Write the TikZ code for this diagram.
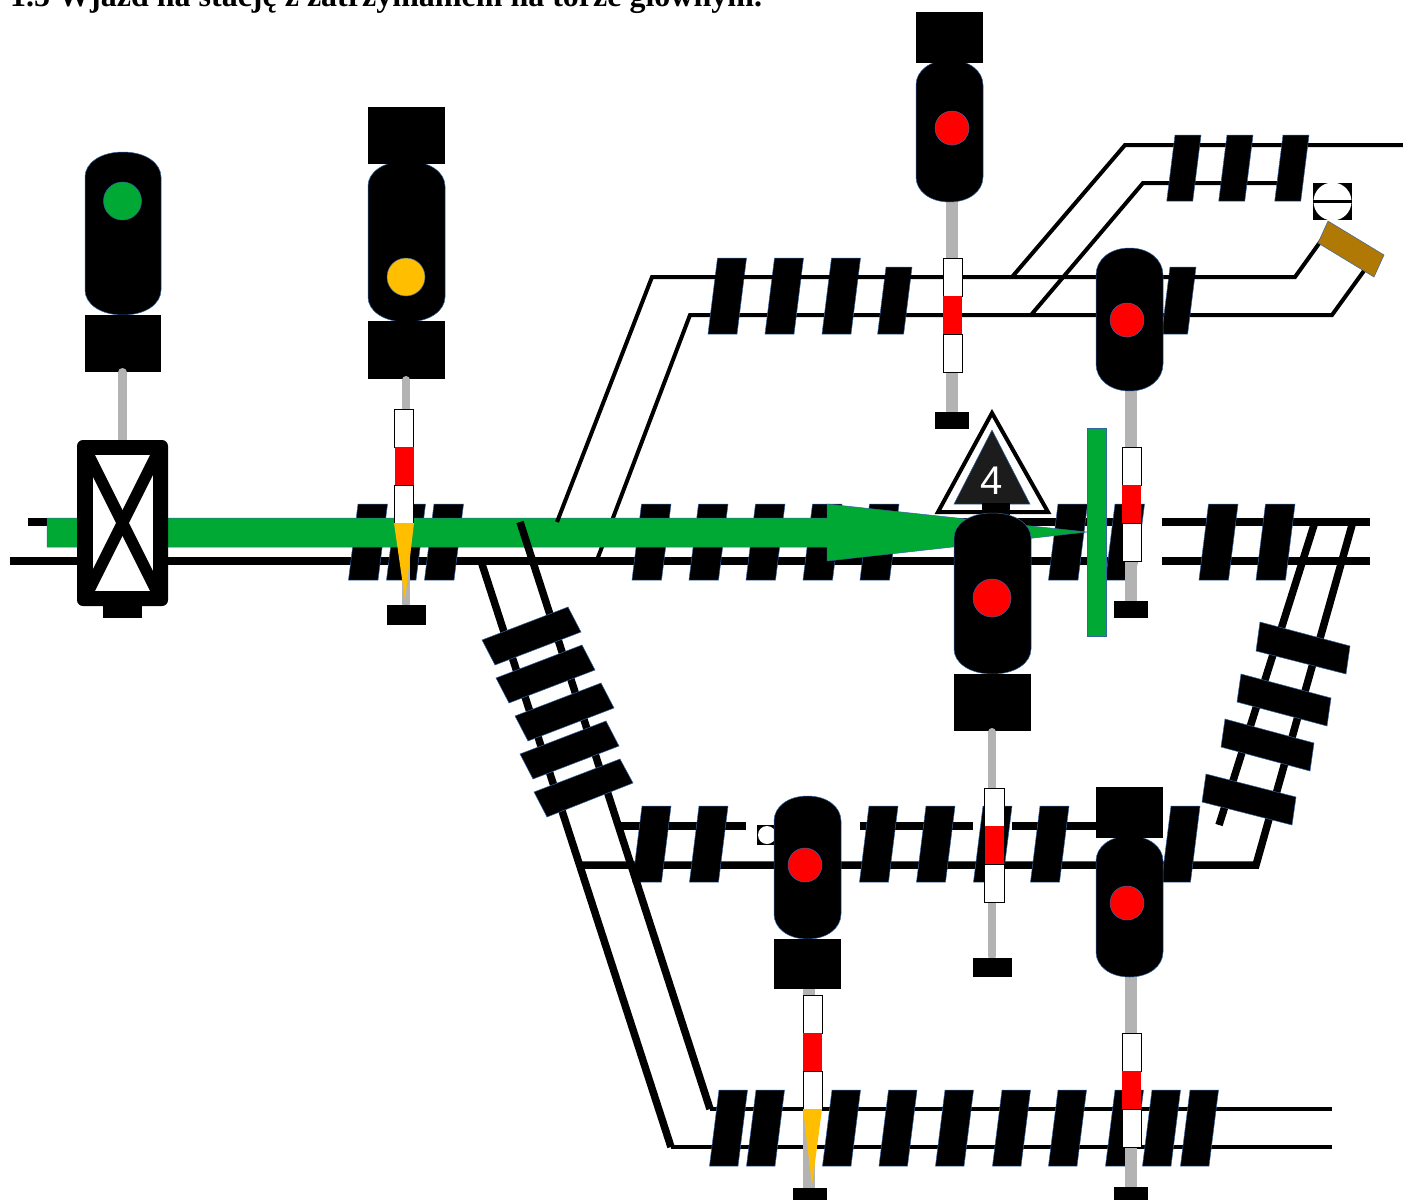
\documentclass[tikz,border=0pt]{standalone}
\usepackage{fontspec}
\setmainfont{Liberation Serif}
\newfontfamily\signfont{Liberation Sans}
\definecolor{edgeblue}{RGB}{52,101,164}
\definecolor{sigGreen}{RGB}{0,169,51}
\definecolor{sigRed}{RGB}{255,0,0}
\definecolor{sigAmber}{RGB}{255,191,0}
\definecolor{poleGray}{RGB}{179,179,179}
\definecolor{brownArm}{RGB}{176,121,6}
\definecolor{darkTri}{RGB}{28,28,28}
\tikzset{
  edged/.style={draw=edgeblue,line width=0.5pt},
  sleeperbar/.style={edged,fill=black},
  thinrail/.style={draw=black,line width=4pt,line join=miter},
  heavyrail/.style={draw=black,line width=7.5pt,line join=miter},
  midrail/.style={draw=black,line width=7.5pt,line join=miter},
  blackfill/.style={fill=black},
  polebar/.style={draw=poleGray,line width=#1},
  whiteseg/.style={fill=white,draw=black,line width=1pt},
  redseg/.style={fill=sigRed,draw=none},
  amberfill/.style={fill=sigAmber,draw=none},
  greenfill/.style={edged,fill=sigGreen},
  headshape/.style={fill=black,draw=none},
}
% sleeper row: y top, y bottom, width, list of top-left x
\newcommand{\sleeperrow}[4]{%
  \foreach \sx in {#4} {
    \fill[sleeperbar] (\sx,#1) -- (\sx+#3,#1) -- ({\sx+#3-(#2-#1)/8},#2) -- ({\sx-(#2-#1)/8},#2) -- cycle;
  }}
% lamp head: x1,x2,y1,y2,ry
\newcommand{\sighead}[5]{%
  \pgfmathsetmacro{\hm}{(#1+#2)/2}\pgfmathsetmacro{\hr}{(#2-#1)/2}%
  \fill[headshape,edged] (#1,#3+#5)
    .. controls (#1,#3+#5*0.45) and (\hm-\hr*0.6,#3) .. (\hm,#3)
    .. controls (\hm+\hr*0.6,#3) and (#2,#3+#5*0.45) .. (#2,#3+#5)
    -- (#2,#4-#5)
    .. controls (#2,#4-#5*0.45) and (\hm+\hr*0.6,#4) .. (\hm,#4)
    .. controls (\hm-\hr*0.6,#4) and (#1,#4-#5*0.45) .. (#1,#4-#5) -- cycle;}
% lamp: cx,cy,r,colour
\newcommand{\siglamp}[4]{\filldraw[edged,fill=#4] (#1,#2) circle[radius=#3];}
% marker: x1,x2,ytop
\newcommand{\sigmarker}[3]{%
  \filldraw[whiteseg] (#1,#3) rectangle (#2,#3+38);
  \filldraw[whiteseg] (#1,#3+76) rectangle (#2,#3+114);
  \fill[redseg] (#1,#3+38) rectangle (#2,#3+76);}
\begin{document}
\begin{tikzpicture}[x=1pt,y=-1pt]
\clip (0,0) rectangle (1403,1200);
\fill[white] (0,0) rectangle (1403,1200);
\node[anchor=base west,inner sep=0pt,font=\fontsize{32}{34}\selectfont\bfseries] (title) at (10,6) {1.5 Wjazd na stację z zatrzymaniem na torze głównym.};

% main line rails
\draw[heavyrail] (28,522) -- (1135,522);
\draw[heavyrail] (10,561) -- (1135,561);
\draw[heavyrail] (1162,522) -- (1370,522);
\draw[heavyrail] (1162,561) -- (1370,561);
% right-hand diagonal rails
\draw[midrail] (1314,525) -- (1219,825);
\draw[midrail] (1352,525) -- (1256,865) -- (581,865);
\draw[midrail] (617,826) -- (746,826);
\draw[midrail] (860,826) -- (973,826);
\draw[midrail] (1012,826) -- (1100,826);
% lower siding
\draw[thinrail] (710,1109) -- (1332,1109);
\draw[thinrail] (671,1147) -- (1332,1147);
% upper sidings
\draw[thinrail] (597,560) -- (690,315) -- (1332,315) -- (1366,268);
\draw[thinrail] (1031,315) -- (1143,183) -- (1285,183);
\draw[thinrail] (1012,277) -- (1125,145) -- (1403,145);

% sleepers
\sleeperrow{504}{580}{29.5}{358,396,434,641.5,698.5,755.5,812.5,869.5,1058,1115,1208.5,1265.5}
\sleeperrow{258}{334}{29}{717.5,774.5,831.5}
\sleeperrow{267}{334}{26}{886}
\sleeperrow{267}{334}{26}{1170}
\sleeperrow{135}{201}{26}{1175,1227,1283}
\sleeperrow{806}{882}{29}{642,699,869,926,983,1040,1171}
\sleeperrow{1090}{1166}{28.5}{719,756,832,888.5,945,1002,1058,1115,1152,1190}

% green route
\fill[greenfill] (47,518) -- (827,518) -- (827,504) -- (1087,532) -- (827,561) -- (827,547) -- (47,547) -- cycle;
\fill[greenfill] (1087,428) rectangle (1106,636);

% rails drawn over the route
\draw[thinrail] (557,522) -- (652,277) -- (1295,277) -- (1323,238);
\draw[midrail] (520,522) -- (710,1109);
\draw[midrail] (481,561) -- (671,1147);

% diagonal sleepers, left
\fill[sleeperbar] (568,607) -- (581,632) -- (495,665) -- (482,640) -- cycle;
\fill[sleeperbar] (582,645) -- (595,670) -- (509,703) -- (496,678) -- cycle;
\fill[sleeperbar] (601,683) -- (614,708) -- (528,741) -- (515,716) -- cycle;
\fill[sleeperbar] (606,721) -- (619,746) -- (533,779) -- (520,754) -- cycle;
\fill[sleeperbar] (620,759) -- (633,783) -- (547,817) -- (534,792) -- cycle;
% diagonal sleepers, right
\fill[sleeperbar] (1260,622) -- (1350,646) -- (1346,674) -- (1256,651) -- cycle;
\fill[sleeperbar] (1241,674) -- (1331,698) -- (1327,726) -- (1237,702) -- cycle;
\fill[sleeperbar] (1225,719) -- (1314,743) -- (1310,771) -- (1221,747) -- cycle;
\fill[sleeperbar] (1206,774) -- (1296,797) -- (1292,825) -- (1202,802) -- cycle;

% catch point with brown arm
\fill[blackfill] (1313,183) rectangle (1352,220);
\fill[white] (1332.5,201.5) circle[radius=19];
\draw[black,line width=3pt] (1313,201.5) -- (1352,201.5);
\fill[edged,fill=brownArm] (1328,221) -- (1384,255) -- (1374,277) -- (1318,243) -- cycle;

% small shunting box
\fill[blackfill] (757,825) rectangle (780,845);
\fill[white] (767,835) circle[radius=9];

% signal 1 with block
\sighead{85}{161}{152}{315}{25}
\fill[blackfill] (85,315) rectangle (161,372);
\draw[polebar=9pt,line cap=round] (122.5,372.5) -- (122.5,445);
\fill[blackfill] (103,600) rectangle (142,618);
\fill[blackfill,rounded corners=6pt] (77,440) rectangle (168,606);
\fill[white] (93,455) rectangle (153,591);
\draw[black,line width=11.5pt,line cap=butt] (84.5,447) -- (160.5,599);
\draw[black,line width=11.5pt,line cap=butt] (160.5,447) -- (84.5,599);
\siglamp{122.5}{201}{19}{sigGreen}

% signal 2
\sighead{368}{445}{161}{322}{25}
\fill[blackfill] (368,107) rectangle (445,164);
\fill[blackfill] (368,321) rectangle (445,379);
\draw[polebar=8pt,line cap=round] (406,380) -- (406,604);
\fill[blackfill] (387,605) rectangle (426,625);
\sigmarker{394.5}{413.5}{409}
\fill[amberfill] (394,523) -- (414,523) -- (405,600) -- cycle;
\siglamp{406}{277}{19}{sigAmber}

% signal 3 (top)
\draw[polebar=12pt] (952,200) -- (952,412);
\sigmarker{943}{962}{258}
\fill[blackfill] (935,412) rectangle (969,429);
\sighead{916}{983}{60}{202}{25}
\fill[blackfill] (916,12) rectangle (983,63);
\siglamp{952}{128}{17}{sigRed}

% signal 4 (right, upper)
\draw[polebar=12pt] (1131,390) -- (1131,602);
\sigmarker{1122}{1141}{447}
\fill[blackfill] (1114,601) rectangle (1148,618);
\sighead{1096}{1163}{248}{391}{27}
\siglamp{1127}{320}{17}{sigRed}

% signal 5 with the speed triangle
\draw[draw=black,fill=white,line width=4pt,line join=miter] (938,512) -- (992,413) -- (1048,512) -- cycle;
\fill[edged,fill=darkTri] (992,430) -- (1030,504) -- (954,504) -- cycle;
\node[inner sep=0pt,text=white,font=\signfont\fontsize{40}{40}\selectfont] (speed) at (992,481) {4};
\fill[blackfill] (982,503) rectangle (1010,516);
\sighead{954}{1031}{513}{674}{25}
\fill[blackfill] (954,674) rectangle (1031,731);
\draw[polebar=8pt,line cap=round] (992,732) -- (992,956);
\sigmarker{984.5}{1004}{788}
\fill[blackfill] (973,958) rectangle (1012,977);
\siglamp{992}{598}{19}{sigRed}

% signal 6 (lower centre)
\draw[polebar=12pt] (809,989) -- (809,1190);
\sigmarker{803}{822}{995}
\fill[amberfill] (803,1109) -- (822,1109) -- (812,1185) -- cycle;
\fill[blackfill] (793,1188) rectangle (827,1200);
\sighead{774}{841}{796}{939}{25}
\fill[blackfill] (774,939) rectangle (841,989);
\siglamp{805}{865}{17}{sigRed}

% signal 7 (lower right)
\draw[polebar=12pt] (1131,975) -- (1131,1190);
\sigmarker{1122}{1141}{1033}
\fill[blackfill] (1114,1187) rectangle (1148,1200);
\sighead{1096}{1163}{836}{977}{25}
\fill[blackfill] (1096,787) rectangle (1163,838);
\siglamp{1127}{903}{17}{sigRed}
\end{tikzpicture}
\end{document}
